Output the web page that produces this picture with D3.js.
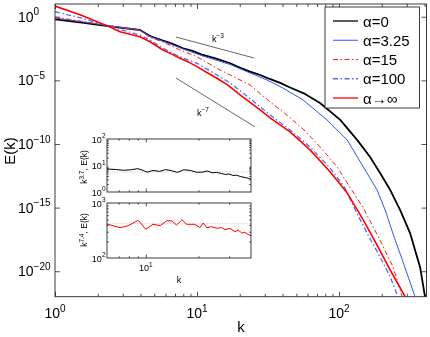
<!DOCTYPE html>
<html><head><meta charset="utf-8">
<script src="https://cdn.jsdelivr.net/npm/d3@7"></script>
<style>
body{margin:0;background:#fff;}
svg{display:block;will-change:transform;}
text{font-family:"Liberation Sans",Arial,Helvetica,sans-serif;fill:#000;}
</style>
</head><body>
<svg id="c" width="430" height="337"></svg>
<script>
// ---------- DATA ----------
const kBlack = [1, 1.5, 2.36, 3.97, 4.67, 5.76, 6.6, 7.97, 9.3, 11.0, 13.5, 17.1, 20, 23.6, 27, 31.1, 38.5, 45.2, 57.6, 73.5, 102, 134, 165, 194, 229, 269, 316, 354, 372, 403];
const eBlack = [0.625, 0.363, 0.186, 0.0904, 0.0306, 0.0131, 8.0e-3, 3.31e-3, 2.1e-3, 9.86e-4, 5.4e-4, 2.2e-4, 1.0e-4, 4.82e-5, 3.0e-5, 1.55e-5, 6.3e-6, 2.77e-6, 8.6e-7, 1.68e-7, 7.8e-9, 2.1e-10, 9.8e-12, 5.4e-13, 2.5e-14, 6.7e-16, 1.05e-17, 1.4e-19, 2.2e-20, 1e-22];

const kBlue = [1, 1.5, 2.36, 3.97, 4.67, 5.76, 7.97, 11.0, 17.1, 23.6, 31.1, 40.2, 55.8, 82.3, 114, 157, 185, 211, 244, 282, 343];
const eBlue = [0.79, 0.42, 0.204, 0.0904, 0.0279, 0.0119, 2.92e-3, 8.2e-4, 1.77e-4, 3.81e-5, 1.07e-5, 2.53e-6, 2.9e-7, 7.8e-9, 2.1e-10, 5.4e-13, 2.5e-14, 6.7e-16, 5.1e-18, 5.6e-20, 1e-22];

const kR15 = [1, 1.5, 2.36, 3.97, 4.67, 5.76, 7.59, 10.0, 13.8, 17.1, 23.6, 32.7, 40.3, 55.8, 73.5, 96.8, 119, 148, 194, 240, 278];
const eR15 = [0.947, 0.46, 0.204, 0.0826, 0.0233, 0.0103, 2.43e-3, 7.2e-4, 8.9e-5, 2.65e-5, 4.35e-6, 2.0e-7, 3.3e-8, 1.53e-9, 5.9e-11, 1.6e-12, 4.3e-14, 9.6e-16, 2.9e-18, 2.2e-20, 1e-22];

const kB100 = [1, 1.57, 2.36, 3.97, 4.67, 5.76, 7.59, 10.0, 13.8, 17.1, 21.1, 32.7, 45.2, 62.5, 86.4, 110, 130, 157, 194, 229, 260];
const eB100 = [2.47, 0.75, 0.186, 0.0366, 0.0148, 3.31e-3, 7.2e-4, 2.2e-4, 2.65e-5, 6.25e-6, 1.03e-6, 1.92e-8, 1.28e-9, 5.9e-11, 1.3e-12, 3.6e-14, 6.7e-16, 1.05e-17, 1.4e-19, 3.7e-21, 1e-22];

const kRinf = [1, 1.5, 2.32, 2.87, 3.97, 4.67, 5.76, 6.6, 7.59, 8.8, 10.0, 11.8, 13.8, 16.5, 20.1, 27.8, 32.7, 45.2, 62.5, 86.4, 114, 148, 185, 229, 292];
const eRinf = [6.92, 1.4, 0.2, 0.0665, 0.0269, 0.0109, 2.43e-3, 1.2e-3, 5.43e-4, 2.6e-4, 1.19e-4, 4.0e-5, 1.46e-5, 4.2e-6, 7.1e-7, 4.75e-8, 1.12e-8, 8.9e-10, 3.45e-11, 6.5e-13, 1.45e-14, 1.1e-16, 1.2e-18, 1.3e-20, 1e-22];

const seriesLabels = ["α=0", "α=3.25", "α=15", "α=100", "α→∞"];

// reference slopes
const refK3 = [7.1, 25.2];  const refE3 = [2.55e-2, 5.7e-4];
const refK7 = [7.1, 25.6];  const refE7 = [1.54e-5, 2.2e-9];

// tick values
const xTicks = [1, 10, 100];
const yTicks = [1, 1e-5, 1e-10, 1e-15, 1e-20];

// inset data
const kInB = [6, 6.8, 7.5, 8.2, 9, 9.6, 10.2, 11, 12, 13, 14, 15.2, 16.5, 18, 19.5, 21, 22.5, 24, 25.5, 27, 28.5, 30, 31.5, 33, 35, 37, 38.5, 40];
const cInB = [7.4, 7.0, 6.6, 6.9, 7.6, 6.6, 5.6, 6.5, 6.0, 7.0, 6.4, 5.5, 6.9, 6.5, 5.6, 5.6, 6.2, 5.3, 5.5, 5.0, 4.6, 4.8, 4.2, 4.3, 3.8, 3.5, 3.3, 3.0];
const kInR = [6, 7.12, 7.94, 9.06, 10.0, 11.0, 12.1, 13.2, 14.1, 15.0, 16.1, 17.1, 19.1, 20.4, 21.3, 22.3, 23.8, 25.5, 27.2, 28.4, 30.3, 32.4, 33.8, 35.4, 36.9, 38.3, 40];
const cInR = [415, 356, 387, 485, 332, 410, 387, 477, 471, 398, 497, 410, 410, 356, 433, 356, 371, 347, 356, 327, 347, 301, 323, 285, 293, 270, 254];
const inRefB = 5.7, inRefR = 420;

// ---------- DRAW ----------
const svg = d3.select('#c');
const L = 55, R = 426.5, T = 4, B = 296.7;
const x = d3.scaleLog().domain([1, 413]).range([L, R]);
const y = d3.scaleLog().domain([1e-22, 10]).range([B, T]);
const axisColor = '#262626';

svg.append('rect').attr('width', 430).attr('height', 337).attr('fill', '#fff');
svg.append('defs').append('clipPath').attr('id', 'clip')
  .append('rect').attr('x', L).attr('y', T).attr('width', R - L).attr('height', B - T);

function supLabel(parent, px, py, base, sup, size, supSize, anchor) {
  const t = parent.append('text').attr('x', px).attr('y', py)
    .attr('font-size', size).attr('text-anchor', anchor);
  t.append('tspan').text(base);
  t.append('tspan').attr('font-size', supSize).attr('dy', -size * 0.45).text(sup);
  return t;
}
function expStr(v) { const e = Math.round(Math.log10(v)); return (e < 0 ? '\u2212' : '') + Math.abs(e); }
function minorLog(lo, hi) {
  const out = [];
  for (let d = Math.pow(10, Math.floor(Math.log10(lo))); d <= hi; d *= 10)
    for (let m = 2; m <= 9; m++) { const v = m * d; if (v > lo && v < hi) out.push(v); }
  return out;
}
function styleAxis(g) {
  g.select('.domain').remove();
  g.selectAll('line').attr('stroke', axisColor).attr('stroke-width', 0.8);
}

// main axes ticks
const minorX = minorLog(1, 413);
svg.append('g').attr('transform', `translate(0,${B})`)
  .call(d3.axisBottom(x).tickValues(minorX).tickSize(-3).tickFormat('')).call(styleAxis);
svg.append('g').attr('transform', `translate(0,${B})`)
  .call(d3.axisBottom(x).tickValues(xTicks).tickSize(-5).tickFormat('')).call(styleAxis);
svg.append('g').attr('transform', `translate(0,${T})`)
  .call(d3.axisTop(x).tickValues(minorX).tickSize(-3).tickFormat('')).call(styleAxis);
svg.append('g').attr('transform', `translate(0,${T})`)
  .call(d3.axisTop(x).tickValues(xTicks).tickSize(-5).tickFormat('')).call(styleAxis);
svg.append('g').attr('transform', `translate(${L},0)`)
  .call(d3.axisLeft(y).tickValues(yTicks).tickSize(-5).tickFormat('')).call(styleAxis);
svg.append('g').attr('transform', `translate(${R},0)`)
  .call(d3.axisRight(y).tickValues(yTicks).tickSize(-5).tickFormat('')).call(styleAxis);

// tick labels
xTicks.forEach(v => supLabel(svg, x(v), 318, '10', expStr(v), 14, 10, 'middle'));
yTicks.forEach(v => supLabel(svg, 18, y(v) + 5, '10', expStr(v), 14, 10, 'start'));

// axis labels
svg.append('text').attr('x', 241).attr('y', 332).attr('font-size', 15).attr('text-anchor', 'middle').text('k');
svg.append('text').attr('transform', 'translate(15,151) rotate(-90)').attr('font-size', 15)
  .attr('text-anchor', 'middle').text('E(k)');

// reference slope lines
const refG = svg.append('g');
[[refK3, refE3], [refK7, refE7]].forEach(([ks, es]) => {
  refG.append('line').attr('x1', x(ks[0])).attr('y1', y(es[0])).attr('x2', x(ks[1])).attr('y2', y(es[1]))
    .attr('stroke', '#555').attr('stroke-width', 0.9);
});
supLabel(svg, 212, 42, 'k', '\u22123', 9, 6.5, 'start');
supLabel(svg, 197, 116, 'k', '\u22127', 9, 6.5, 'start');

// series
const series = [
  { k: kBlack, e: eBlack, color: '#000000', w: 1.8, dash: null },
  { k: kBlue, e: eBlue, color: '#2f55ff', w: 1.0, dash: null },
  { k: kR15, e: eR15, color: '#ff1a1a', w: 1.0, dash: '5,2.5,1.5,2.5' },
  { k: kB100, e: eB100, color: '#4d6fff', w: 1.3, dash: '5,2.5,1.5,2.5' },
  { k: kRinf, e: eRinf, color: '#ff0000', w: 1.6, dash: null }
];
const line = d3.line().x(d => x(d[0])).y(d => y(d[1]));
const plotG = svg.append('g').attr('clip-path', 'url(#clip)');
series.forEach(s => {
  plotG.append('path').attr('d', line(d3.zip(s.k, s.e)))
    .attr('fill', 'none').attr('stroke', s.color).attr('stroke-width', s.w)
    .attr('stroke-linejoin', 'round')
    .attr('stroke-dasharray', s.dash);
});

// frame
svg.append('rect').attr('x', L).attr('y', T).attr('width', R - L).attr('height', B - T)
  .attr('fill', 'none').attr('stroke', axisColor).attr('stroke-width', 0.9);

// legend
const lg = svg.append('g');
lg.append('rect').attr('x', 325).attr('y', 7).attr('width', 94.5).attr('height', 101)
  .attr('fill', '#fff').attr('stroke', axisColor).attr('stroke-width', 0.9);
series.forEach((s, i) => {
  const yy = 21 + i * 19.25;
  lg.append('line').attr('x1', 333).attr('x2', 358).attr('y1', yy).attr('y2', yy)
    .attr('stroke', s.color).attr('stroke-width', Math.min(s.w, 1.3)).attr('stroke-dasharray', s.dash);
  lg.append('text').attr('x', 363).attr('y', yy + 5.5).attr('font-size', 15).text(seriesLabels[i]);
});

// ---------- INSET ----------
const IL = 107, IR = 251;
const xi = d3.scaleLog().domain([6, 40]).range([IL, IR]);
const yi1 = d3.scaleLog().domain([1, 100]).range([192, 139]);
const yi2 = d3.scaleLog().domain([100, 1000]).range([258, 203]);
const inMinorX = minorLog(6, 40);
const ig = svg.append('g');
function panel(ys, top, bottom, kArr, cArr, refVal, color, yMajor, yMinor) {
  ig.append('rect').attr('x', IL).attr('y', top).attr('width', IR - IL).attr('height', bottom - top)
    .attr('fill', '#fff');
  ig.append('line').attr('x1', IL).attr('x2', IR).attr('y1', ys(refVal)).attr('y2', ys(refVal))
    .attr('stroke', '#b0b0b0').attr('stroke-width', 0.8).attr('stroke-dasharray', '1,1.5');
  ig.append('path').attr('d', d3.line().x(d => xi(d[0])).y(d => ys(d[1]))(d3.zip(kArr, cArr)))
    .attr('fill', 'none').attr('stroke', color).attr('stroke-width', 1);
  ig.append('g').attr('transform', `translate(0,${bottom})`)
    .call(d3.axisBottom(xi).tickValues(inMinorX).tickSize(-1.8).tickFormat('')).call(styleAxis);
  ig.append('g').attr('transform', `translate(0,${bottom})`)
    .call(d3.axisBottom(xi).tickValues([10]).tickSize(-3.5).tickFormat('')).call(styleAxis);
  ig.append('g').attr('transform', `translate(0,${top})`)
    .call(d3.axisTop(xi).tickValues(inMinorX).tickSize(-1.8).tickFormat('')).call(styleAxis);
  ig.append('g').attr('transform', `translate(0,${top})`)
    .call(d3.axisTop(xi).tickValues([10]).tickSize(-3.5).tickFormat('')).call(styleAxis);
  ig.append('g').attr('transform', `translate(${IL},0)`)
    .call(d3.axisLeft(ys).tickValues(yMinor).tickSize(-1.8).tickFormat('')).call(styleAxis);
  ig.append('g').attr('transform', `translate(${IR},0)`)
    .call(d3.axisRight(ys).tickValues(yMinor).tickSize(-1.8).tickFormat('')).call(styleAxis);
  ig.append('rect').attr('x', IL).attr('y', top).attr('width', IR - IL).attr('height', bottom - top)
    .attr('fill', 'none').attr('stroke', axisColor).attr('stroke-width', 0.9);
  yMajor.forEach(v => supLabel(ig, IL - 1.5, ys(v) + 3.5, '10', String(Math.round(Math.log10(v))), 9, 6.5, 'end'));
}
panel(yi1, 139, 192, kInB, cInB, inRefB, '#000', [1, 10, 100], minorLog(1, 100));
panel(yi2, 203, 258, kInR, cInR, inRefR, '#ff0000', [100, 1000], minorLog(100, 1000));
supLabel(ig, xi(10), 271, '10', '1', 9, 6.5, 'middle');
ig.append('text').attr('x', 179).attr('y', 283).attr('font-size', 9).attr('text-anchor', 'middle').text('k');
function inYLabel(cy, sup) {
  const t = ig.append('text').attr('transform', `translate(87,${cy}) rotate(-90)`)
    .attr('font-size', 8.5).attr('text-anchor', 'middle');
  t.append('tspan').text('k');
  t.append('tspan').attr('font-size', 6.5).attr('dy', -3.5).text(sup);
  t.append('tspan').attr('dy', 3.5).text(', E(k)');
}
inYLabel(167, '3.7');
inYLabel(230, '7.4');
</script>
</body></html>
